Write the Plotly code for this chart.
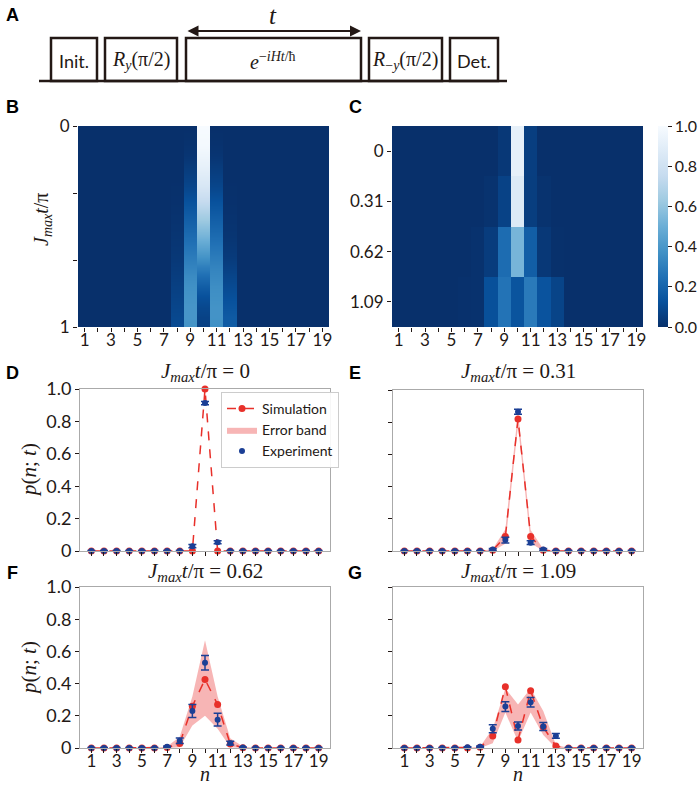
import plotly.graph_objects as go

W, H = 700, 786
def fx(p): return p / W
def fy(p): return 1 - p / H

# ---------------- data ----------------
n_sites = list(range(1, 20))
x_ticklabels = [str(v) if v % 2 == 1 else "" for v in n_sites]

# Panel B: simulated p(n;t) vs J_max t/pi (columns 8..12, others ~0)
t_sim = [0.00, 0.05, 0.10, 0.15, 0.20, 0.25, 0.30, 0.35, 0.40, 0.45, 0.50,
         0.55, 0.60, 0.65, 0.70, 0.75, 0.80, 0.85, 0.90, 0.95, 1.00]
sim_n8  = [0, 0, 0, 0, 0, 0, 0.002, 0.004, 0.006, 0.01, 0.015, 0.02, 0.025, 0.03, 0.04, 0.05, 0.06, 0.07, 0.08, 0.09, 0.1]
sim_n9  = [0, 0.003, 0.01, 0.02, 0.04, 0.06, 0.08, 0.11, 0.14, 0.17, 0.2, 0.23, 0.26, 0.29, 0.32, 0.35, 0.37, 0.38, 0.39, 0.39, 0.38]
sim_n10 = [1.0, 0.99, 0.98, 0.95, 0.92, 0.88, 0.84, 0.78, 0.72, 0.65, 0.58, 0.52, 0.45, 0.38, 0.3, 0.23, 0.17, 0.12, 0.09, 0.07, 0.06]
sim_n11 = [0, 0.003, 0.01, 0.02, 0.04, 0.06, 0.08, 0.11, 0.14, 0.17, 0.2, 0.23, 0.26, 0.29, 0.32, 0.34, 0.36, 0.37, 0.38, 0.38, 0.37]
sim_n12 = [0, 0, 0, 0, 0, 0, 0.002, 0.004, 0.006, 0.01, 0.015, 0.02, 0.03, 0.04, 0.06, 0.08, 0.1, 0.12, 0.14, 0.16, 0.17]

# Panels C-G: four times
time_labels = ["0", "0.31", "0.62", "1.09"]

sim_0   = [0, 0, 0, 0, 0, 0, 0, 0, 0, 1.0, 0, 0, 0, 0, 0, 0, 0, 0, 0]
lo_0    = [0, 0, 0, 0, 0, 0, 0, 0, 0, 0.995, 0, 0, 0, 0, 0, 0, 0, 0, 0]
hi_0    = [0, 0, 0, 0, 0, 0, 0, 0, 0, 1.0, 0, 0, 0, 0, 0, 0, 0, 0, 0]
exp_0   = [0, 0, 0, 0, 0, 0, 0, 0, 0.03, 0.913, 0.054, 0, 0, 0, 0, 0, 0, 0, 0]
err_0   = [0.003, 0.003, 0.003, 0.003, 0.003, 0.003, 0.003, 0.003, 0.01, 0.01, 0.01,
           0.003, 0.003, 0.003, 0.003, 0.003, 0.003, 0.003, 0.003]

sim_031 = [0, 0, 0, 0, 0, 0, 0, 0.005, 0.09, 0.82, 0.09, 0.005, 0, 0, 0, 0, 0, 0, 0]
lo_031  = [0, 0, 0, 0, 0, 0, 0, 0, 0.045, 0.78, 0.05, 0, 0, 0, 0, 0, 0, 0, 0]
hi_031  = [0, 0, 0, 0, 0, 0, 0, 0.012, 0.135, 0.86, 0.13, 0.012, 0, 0, 0, 0, 0, 0, 0]
exp_031 = [0, 0, 0, 0, 0, 0, 0, 0.01, 0.068, 0.865, 0.052, 0.01, 0, 0, 0, 0, 0, 0, 0]
err_031 = [0.003, 0.003, 0.003, 0.003, 0.003, 0.003, 0.003, 0.005, 0.018, 0.015, 0.012,
           0.005, 0.003, 0.003, 0.003, 0.003, 0.003, 0.003, 0.003]

sim_062 = [0, 0, 0, 0, 0, 0, 0.003, 0.028, 0.26, 0.426, 0.27, 0.025, 0.002, 0, 0, 0, 0, 0, 0]
lo_062  = [0, 0, 0, 0, 0, 0, 0, 0.005, 0.14, 0.2, 0.12, 0.005, 0, 0, 0, 0, 0, 0, 0]
hi_062  = [0, 0, 0, 0, 0, 0, 0.01, 0.07, 0.32, 0.67, 0.32, 0.06, 0.01, 0, 0, 0, 0, 0, 0]
exp_062 = [0, 0, 0, 0, 0, 0, 0.008, 0.045, 0.23, 0.53, 0.176, 0.03, 0.003, 0, 0, 0, 0, 0, 0]
err_062 = [0.003, 0.003, 0.003, 0.003, 0.003, 0.003, 0.005, 0.017, 0.04, 0.045, 0.04,
           0.012, 0.003, 0.003, 0.003, 0.003, 0.003, 0.003, 0.003]

sim_109 = [0, 0, 0, 0, 0, 0, 0.004, 0.075, 0.381, 0.05, 0.356, 0.13, 0.012, 0, 0, 0, 0, 0, 0]
lo_109  = [0, 0, 0, 0, 0, 0, 0, 0.03, 0.22, 0.04, 0.22, 0.08, 0, 0, 0, 0, 0, 0, 0]
hi_109  = [0, 0, 0, 0, 0, 0, 0.01, 0.12, 0.37, 0.27, 0.37, 0.23, 0.02, 0, 0, 0, 0, 0, 0]
exp_109 = [0, 0, 0, 0, 0, 0.004, 0.008, 0.12, 0.257, 0.137, 0.284, 0.133, 0.075, 0, 0, 0, 0, 0, 0]
err_109 = [0.003, 0.003, 0.003, 0.003, 0.003, 0.003, 0.005, 0.025, 0.03, 0.025, 0.03,
           0.025, 0.015, 0.003, 0.003, 0.003, 0.003, 0.003, 0.003]

p_ticks = [0, 0.2, 0.4, 0.6, 0.8, 1.0]
p_ticklabels = ["0", "0.2", "0.4", "0.6", "0.8", "1.0"]
cb_ticks = [0, 0.2, 0.4, 0.6, 0.8, 1.0]
cb_ticklabels = ["0.0", "0.2", "0.4", "0.6", "0.8", "1.0"]

# ---------------- style ----------------
INK = "#231815"
RED = "#e8302a"
BLUE = "#1b3f95"
BAND = "rgba(240,120,120,0.55)"
FRAME = "#aaaaaa"
SANS = "Lato"
SERIF = "Liberation Serif"

blues_r = [[0.0, "#08306b"], [0.125, "#08519c"], [0.25, "#2171b5"], [0.375, "#4292c6"],
           [0.5, "#6baed6"], [0.625, "#9ecae1"], [0.75, "#c6dbef"], [0.875, "#deebf7"],
           [1.0, "#f7fbff"]]

fig = go.Figure()

# ---------------- heatmap B (smooth in t, sharp columns) ----------------
# each site column is given two nearby x samples so that smoothing acts only along t
x_b = []
for n in n_sites:
    x_b += [n - 0.49, n + 0.49]
z_sim = []
for i in range(len(t_sim)):
    row = [0.0] * 19
    row[7] = sim_n8[i]; row[8] = sim_n9[i]; row[9] = sim_n10[i]
    row[10] = sim_n11[i]; row[11] = sim_n12[i]
    dup = []
    for v in row:
        dup += [v, v]
    z_sim.append(dup)
fig.add_trace(go.Heatmap(z=z_sim, x=x_b, y=t_sim, coloraxis="coloraxis", zsmooth="best",
                         xaxis="x", yaxis="y", hoverinfo="skip"))

# ---------------- heatmap C ----------------
z_exp = [exp_0, exp_031, exp_062, exp_109]
fig.add_trace(go.Heatmap(z=z_exp, x=n_sites, y=[0, 1, 2, 3], coloraxis="coloraxis",
                         xaxis="x2", yaxis="y2", hoverinfo="skip"))

# ---------------- line panels ----------------
panels = [
    (sim_0, lo_0, hi_0, exp_0, err_0, "x3", "y3"),
    (sim_031, lo_031, hi_031, exp_031, err_031, "x4", "y4"),
    (sim_062, lo_062, hi_062, exp_062, err_062, "x5", "y5"),
    (sim_109, lo_109, hi_109, exp_109, err_109, "x6", "y6"),
]
for k, (sim, lo, hi, ex, er, xa, ya) in enumerate(panels):
    first = (k == 0)
    fig.add_trace(go.Scatter(x=n_sites, y=lo, mode="lines", line=dict(width=0, color=BAND),
                             showlegend=False, hoverinfo="skip", xaxis=xa, yaxis=ya))
    fig.add_trace(go.Scatter(x=n_sites, y=hi, mode="lines", line=dict(width=0, color=BAND),
                             fill="tonexty", fillcolor=BAND, name="Error band",
                             showlegend=first, legendrank=2, hoverinfo="skip",
                             xaxis=xa, yaxis=ya))
    fig.add_trace(go.Scatter(x=n_sites, y=sim, mode="lines+markers", name="Simulation",
                             line=dict(color=RED, width=1.5, dash="dash"),
                             marker=dict(color=RED, size=7), cliponaxis=False,
                             showlegend=first, legendrank=1, xaxis=xa, yaxis=ya))
    fig.add_trace(go.Scatter(x=n_sites, y=ex, mode="markers", name="Experiment",
                             marker=dict(color=BLUE, size=6),
                             error_y=dict(type="data", array=er, color=BLUE, thickness=1.5, width=4),
                             cliponaxis=False, showlegend=first, legendrank=3,
                             xaxis=xa, yaxis=ya))

# ---------------- axes ----------------
tickfont = dict(family=SANS, size=17, color=INK)
base_x = dict(tickvals=n_sites, ticktext=x_ticklabels, ticks="outside", ticklen=4,
              tickcolor=INK, tickfont=tickfont, showgrid=False, zeroline=False,
              ticklabelstandoff=-6)

def xdom(a, b): return [fx(a), fx(b)]
def ydom(top, bot): return [fy(bot), fy(top)]

layout_axes = {}
layout_axes["xaxis"] = dict(base_x, domain=xdom(78, 329), range=[0.5, 19.5], anchor="y", showline=False)
layout_axes["yaxis"] = dict(domain=ydom(126, 327), range=[1, 0], anchor="x",
                            tickvals=[0, 1 / 3, 2 / 3, 1], ticktext=["0", "", "", "1"],
                            ticks="outside", ticklen=4, tickcolor=INK, tickfont=tickfont,
                            showgrid=False, zeroline=False)
layout_axes["xaxis2"] = dict(base_x, domain=xdom(392, 643), range=[0.5, 19.5], anchor="y2", showline=False)
layout_axes["yaxis2"] = dict(domain=ydom(126, 327), range=[3.5, -0.5], anchor="x2",
                             tickvals=[0, 1, 2, 3], ticktext=time_labels,
                             ticks="outside", ticklen=4, tickcolor=INK, tickfont=tickfont,
                             showgrid=False, zeroline=False)

line_boxes = [("3", 80, 330, 389, 551, True, False),
              ("4", 393, 643, 390, 551, False, False),
              ("5", 80, 330, 587, 748, True, True),
              ("6", 393, 643, 587, 748, False, True)]
for s, l, r, t, b, ylab, xlab in line_boxes:
    layout_axes["xaxis" + s] = dict(base_x, domain=xdom(l, r), range=[0.1, 19.9], anchor="y" + s,
                                   showline=True, mirror=True, linecolor=FRAME, linewidth=1,
                                   showticklabels=xlab)
    layout_axes["yaxis" + s] = dict(domain=ydom(t, b), range=[0, 1], anchor="x" + s,
                                   tickvals=p_ticks, ticktext=p_ticklabels, ticks="outside",
                                   ticklen=4, tickcolor=INK, tickfont=dict(family=SANS, size=18, color=INK),
                                   showline=True, mirror=True, linecolor=FRAME, linewidth=1,
                                   showgrid=False, zeroline=False, showticklabels=ylab)

# ---------------- panel A shapes ----------------
shapes = []
LW = 2.5
boxes = [(51, 97), (105, 177), (186, 361), (369, 442), (450, 498)]
for l, r in boxes:
    shapes.append(dict(type="rect", xref="paper", yref="paper", x0=fx(l), x1=fx(r),
                       y0=fy(81), y1=fy(38), line=dict(color=INK, width=LW)))
shapes.append(dict(type="line", xref="paper", yref="paper", x0=fx(39), x1=fx(507),
                   y0=fy(81), y1=fy(81), line=dict(color=INK, width=LW)))

annotations = []
def ann(text, x, y, size=16, family=SANS, color=INK, angle=0, xanchor="center", bold=False):
    if bold:
        text = "<b>" + text + "</b>"
    annotations.append(dict(text=text, x=fx(x), y=fy(y), xref="paper", yref="paper",
                            showarrow=False, xanchor=xanchor, yanchor="middle",
                            textangle=angle, font=dict(family=family, size=size, color=color)))

# arrow for t (double-headed)
annotations.append(dict(x=fx(361), y=fy(31), ax=-(361 - 186), ay=0, xref="paper", yref="paper",
                        axref="pixel", ayref="pixel", showarrow=True, text="",
                        arrowhead=2, arrowside="end+start", arrowsize=1, arrowwidth=2.2,
                        arrowcolor=INK))
ann("<i>t</i>", 273, 16, size=25, family=SERIF)
ann("Init.", 74, 61, size=18)
ann("<i>R</i><sub><i>y</i></sub>(π/2)", 141, 60, size=20, family=SERIF)
ann("<i>e</i><sup>−<i>iHt</i>/ħ</sup>", 273, 61, size=20, family=SERIF)
ann("<i>R</i><sub>−<i>y</i></sub>(π/2)", 405, 60, size=20, family=SERIF)
ann("Det.", 474, 61, size=18)

# panel letters
for letter, x, y in [("A", 12, 15), ("B", 12, 107), ("C", 355, 107), ("D", 12, 373),
                     ("E", 355, 373), ("F", 12, 573), ("G", 355, 573)]:
    ann(letter, x, y, size=18, family="Liberation Sans", bold=True, color="#000000")

# titles
jt = "<i>J</i><sub><i>max</i></sub><i>t</i>/π"
ann(jt, 43, 220, size=20, family=SERIF, angle=-90)
for tl, x, y in [("0", 205, 372), ("0.31", 518, 372), ("0.62", 205, 572), ("1.09", 518, 572)]:
    ann(jt + " = " + tl, x, y, size=21, family=SERIF)
ann("<i>p</i>(<i>n</i>; <i>t</i>)", 29, 470, size=21, family=SERIF, angle=-90)
ann("<i>p</i>(<i>n</i>; <i>t</i>)", 29, 668, size=21, family=SERIF, angle=-90)
ann("<i>n</i>", 205, 774, size=20, family=SERIF)
ann("<i>n</i>", 518, 774, size=20, family=SERIF)

fig.update_layout(
    width=W, height=H, margin=dict(l=0, r=0, t=0, b=0, autoexpand=False),
    paper_bgcolor="white", plot_bgcolor="white",
    coloraxis=dict(colorscale=blues_r, cmin=0, cmax=1,
                   colorbar=dict(x=fx(658), xanchor="left", y=fy(327), yanchor="bottom",
                                 xpad=0, ypad=0,
                                 len=201 / H, lenmode="fraction", thickness=10,
                                 thicknessmode="pixels", tickvals=cb_ticks, ticktext=cb_ticklabels,
                                 ticks="outside", ticklen=4, tickcolor=INK, outlinewidth=0,
                                 tickfont=dict(family=SANS, size=16, color=INK))),
    legend=dict(x=fx(221), y=fy(392), xanchor="left", yanchor="top",
                bgcolor="rgba(255,255,255,0.9)", bordercolor="#cccccc", borderwidth=1,
                font=dict(family=SANS, size=14, color=INK), traceorder="normal",
                tracegroupgap=0, itemwidth=30),
    shapes=shapes, annotations=annotations,
    showlegend=True,
    **layout_axes,
)

fig.write_html("out.html", config={"displayModeBar": False},
               post_script="document.body.style.margin='0px';document.body.style.overflow='hidden';")
